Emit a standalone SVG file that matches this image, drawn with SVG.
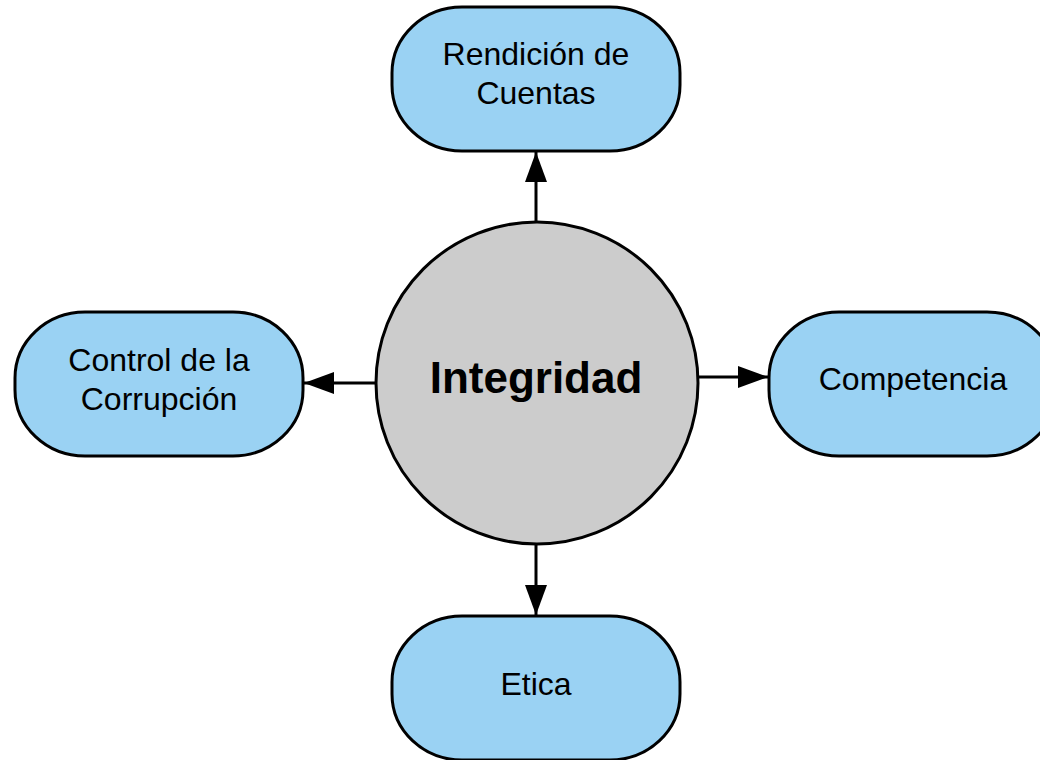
<svg xmlns="http://www.w3.org/2000/svg" width="1040" height="760" viewBox="0 0 1040 760">
<style>
.node{fill:#9ad2f3;stroke:#000;stroke-width:3}
.center{fill:#cccccc;stroke:#000;stroke-width:3}
.lbl{font-family:"Liberation Sans",Arial,sans-serif;font-size:32px;fill:#000;text-anchor:middle}
.big{font-family:"Liberation Sans",Arial,sans-serif;font-size:44px;font-weight:bold;fill:#000;text-anchor:middle}
.conn{stroke:#000;stroke-width:3;fill:none;marker-end:url(#arr)}
</style>
<defs>
<marker id="arr" markerUnits="userSpaceOnUse" markerWidth="30" markerHeight="22" viewBox="0 0 30 22" refX="30" refY="11" orient="auto">
<path d="M0,0 L30,11 L0,22 z" fill="#000"/>
</marker>
</defs>
<rect width="1040" height="760" fill="#fff"/>
<g id="connectors">
<path class="conn" d="M536,222 L536,152"/>
<path class="conn" d="M376,383 L304,383"/>
<path class="conn" d="M698,377 L768,377"/>
<path class="conn" d="M536,545 L536,615"/>
</g>
<g id="integridad">
<circle class="center" cx="537" cy="383" r="161"/>
<text class="big" x="536" y="393">Integridad</text>
</g>
<g id="rendicion">
<rect class="node" x="392" y="7" width="288" height="144" rx="70" ry="66"/>
<text class="lbl" x="536" y="65">Rendición de</text>
<text class="lbl" x="536" y="104">Cuentas</text>
</g>
<g id="control">
<rect class="node" x="15" y="312" width="288" height="144" rx="70" ry="66"/>
<text class="lbl" x="159" y="371">Control de la</text>
<text class="lbl" x="159" y="410">Corrupción</text>
</g>
<g id="competencia">
<rect class="node" x="769" y="312" width="288" height="144" rx="70" ry="66"/>
<text class="lbl" x="913" y="390">Competencia</text>
</g>
<g id="etica">
<rect class="node" x="392" y="616" width="288" height="144" rx="70" ry="66"/>
<text class="lbl" x="536" y="695">Etica</text>
</g>
</svg>
